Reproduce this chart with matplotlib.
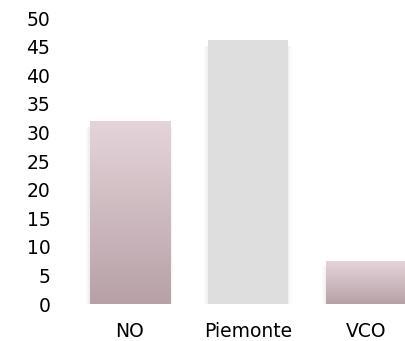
import numpy as np
import matplotlib
matplotlib.use('Agg')
import matplotlib.pyplot as plt
from matplotlib.colors import LinearSegmentedColormap

categories = ['NO', 'Piemonte', 'VCO']
values = [32, 46.2, 7.4]
yticks = [0, 5, 10, 15, 20, 25, 30, 35, 40, 45, 50]

pink = LinearSegmentedColormap.from_list('pink', ['#b7a1a7', '#e4d4d9'])
grey = '#dedede'

plt.rcParams['font.family'] = ['DejaVu Sans']

fig = plt.figure(figsize=(4.06, 3.41), dpi=100)
ax = fig.add_axes([0.172, 0.1085, 0.828, 0.8385])

x = np.arange(len(categories))
width = 0.68
bars = ax.bar(x, values, width=width, color=['none', grey, 'none'], zorder=3)

grad = np.linspace(0, 1, 256).reshape(-1, 1)
for i, b in enumerate(bars):
    x0, w, h = b.get_x(), b.get_width(), b.get_height()
    # faint shadow along the sides
    for k, a in zip([0.03, 0.02, 0.01], [0.03, 0.04, 0.05]):
        ax.add_patch(plt.Rectangle((x0 - k, 0), w + 2 * k, h - 1.0,
                                   color='#888888', alpha=a, lw=0, zorder=2))
    if i != 1:
        ax.imshow(grad, cmap=pink, aspect='auto', origin='lower',
                  extent=(x0, x0 + w, 0, h), zorder=3)

ax.set_xlim(-0.508, 2.34)
ax.set_ylim(0, 50)
ax.set_yticks(yticks)
ax.set_xticks(x)
ax.set_xticklabels(categories)
ax.tick_params(length=0, labelsize=13.5, colors='#000000')
ax.tick_params(axis='y', pad=14)
ax.tick_params(axis='x', pad=13)
for s in ax.spines.values():
    s.set_visible(False)

fig.savefig('out.png', dpi=100)
